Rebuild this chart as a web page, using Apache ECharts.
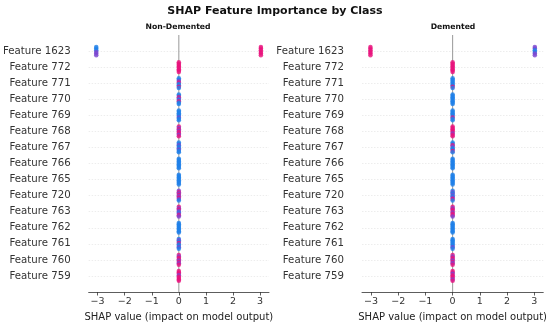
<!DOCTYPE html>
<html>
<head>
<meta charset="utf-8">
<script src="https://cdn.jsdelivr.net/npm/echarts@6/dist/echarts.min.js"></script>
<style>html,body{margin:0;padding:0;background:#fff}#c{width:550px;height:327px}</style>
</head>
<body>
<div id="c"></div>
<script>
const features = ['Feature 1623','Feature 772','Feature 771','Feature 770','Feature 769','Feature 768','Feature 767','Feature 766','Feature 765','Feature 720','Feature 763','Feature 762','Feature 761','Feature 760','Feature 759'];
const xTicks = [-3, -2, -1, 0, 1, 2, 3];
const panelTitles = ['Non-Demented', 'Demented'];

// SHAP value clusters per feature (one entry per cluster)
const nonDementedShap = [[-3.05, 3.03],[0],[0],[0],[0],[0],[0],[0],[0],[0],[0],[0],[0],[0],[0]];
const dementedShap    = [[-3.02, 3.02],[0],[0],[0],[0],[0],[0],[0],[0],[0],[0],[0],[0],[0],[0]];

// feature-value colour of stacked points in each cluster, top to bottom (P high, M mid, B low)
const nonDementedColors = [['BBBMMM','PPPPPP'],['PPPPPPPP'],['BBMPBBPB'],['BBPMBPBB'],['BBBBBMBB'],['PMPMPPMP'],['BBMBBMBB'],['BBBBBBBB'],['BBBBBBBB'],['MPMPMPMB'],['PMPMBMPM'],['BBBBBBBB'],['BMBPBBMB'],['PMPPMPMP'],['PPPMPPPP']];
const dementedColors    = [['PPPPPP','MMBBMM'],['PPPPPPPP'],['BBBBBBPB'],['BBBBBBBB'],['BBBBBPBB'],['PPPPPMPP'],['BBPMBBPB'],['BBBBBBBB'],['BBBBBBBB'],['BMBMBMPB'],['PMPPMPPM'],['BBBBBBBB'],['BBBBBBMB'],['PMPPMPMP'],['PPMPPPMP']];

const palette = {P: '#e8127c', M: '#7a45d0', B: '#1e7fe8'};
const FONT = 'DejaVu Sans';

function buildPoints(shap, colors) {
  const pts = [];
  shap.forEach((vals, r) => {
    vals.forEach((v, c) => {
      const s = colors[r][c];
      const n = s.length;
      const spread = n >= 8 ? 0.3 : 0.26;
      for (let k = 0; k < n; k++) {
        const y = r - spread + (n > 1 ? 2 * spread * k / (n - 1) : spread);
        pts.push({value: [v, y], itemStyle: {color: palette[s[k]]}});
      }
    });
  });
  return pts;
}

const grids = [
  {left: 87, width: 182, top: 35, bottom: 31},
  {left: 362, width: 182, top: 35, bottom: 31}
];
const splitColors = [];
for (let i = 0; i <= features.length + 1; i++) splitColors.push(i === 0 || i === features.length + 1 ? 'rgba(0,0,0,0)' : 'rgba(0,0,0,0.09)');

const xAxes = grids.map((g, i) => ({
  type: 'value', gridIndex: i, min: -3.33, max: 3.33,
  name: 'SHAP value (impact on model output)', nameLocation: 'middle', nameGap: 20,
  nameTextStyle: {fontFamily: FONT, fontSize: 10, color: '#222'},
  axisLine: {show: true, onZero: false, lineStyle: {color: '#333', width: 0.8}},
  axisTick: {show: true, customValues: xTicks, length: 3.5, lineStyle: {color: '#333', width: 0.8}},
  axisLabel: {customValues: xTicks, fontFamily: FONT, fontSize: 9.5, color: '#333', margin: 5,
    formatter: v => v < 0 ? '\u2212' + Math.abs(v) : String(v)},
  splitLine: {show: false}
}));
const yAxes = grids.map((g, i) => ({
  type: 'value', gridIndex: i, min: -1, max: features.length, interval: 1, inverse: true,
  axisLine: {show: false, onZero: false}, axisTick: {show: false},
  axisLabel: {fontFamily: FONT, fontSize: 10.2, color: '#333', margin: 18,
    formatter: v => features[v] || ''},
  splitLine: {show: true, lineStyle: {color: splitColors, width: 0.8, type: [1.5, 1.5]}}
}));

const series = [];
[[nonDementedShap, nonDementedColors], [dementedShap, dementedColors]].forEach(([shap, cols], i) => {
  series.push({
    type: 'line', xAxisIndex: i, yAxisIndex: i, data: [[0, -1], [0, features.length]],
    symbol: 'none', silent: true, z: 1, lineStyle: {color: '#999', width: 1}
  });
  series.push({
    type: 'scatter', xAxisIndex: i, yAxisIndex: i, symbol: 'circle', symbolSize: 4.5,
    z: 3, silent: true, data: buildPoints(shap, cols)
  });
});

const chart = echarts.init(document.getElementById('c'), null, {renderer: 'canvas'});
chart.setOption({
  animation: false,
  backgroundColor: '#fff',
  title: {text: 'SHAP Feature Importance by Class', left: 'center', top: 1,
    textStyle: {fontFamily: FONT, fontSize: 11, fontWeight: 'bold', color: '#111'}},
  graphic: panelTitles.map((t, i) => ({
    type: 'text', x: grids[i].left + grids[i].width * 3.33 / 6.66, y: 27,
    style: {text: t, fontFamily: FONT, fontSize: 7.7, fontWeight: 'bold', fill: '#111', align: 'center', verticalAlign: 'middle'}
  })),
  grid: grids,
  xAxis: xAxes,
  yAxis: yAxes,
  series: series
});
</script>
</body>
</html>
